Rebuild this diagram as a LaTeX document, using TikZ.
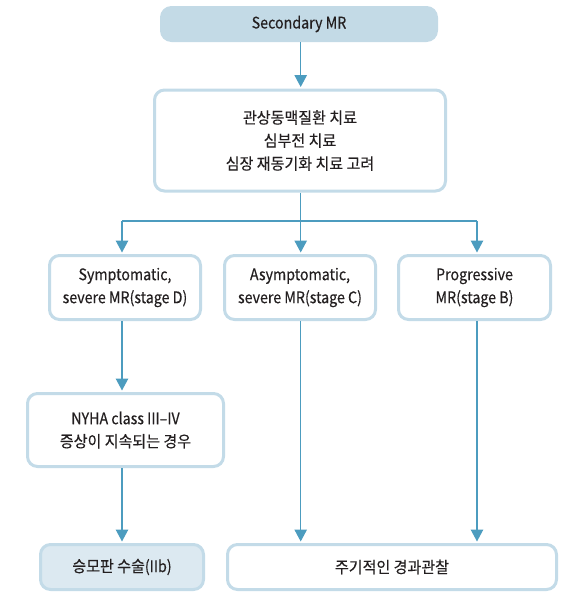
\documentclass[tikz,border=0pt]{standalone}
\usepackage{fontspec}
\setmainfont{Noto Sans CJK KR}[FakeStretch=0.94,FakeBold=0.3]
\newfontfamily\latf{Noto Sans CJK KR}[FakeStretch=0.89,FakeBold=0.3]
\newcommand{\lat}[1]{{\latf #1}}
\usetikzlibrary{arrows.meta}
\definecolor{arrowc}{HTML}{4C9CBF}
\definecolor{borderc}{HTML}{C3DBE8}
\definecolor{fillA}{HTML}{C3DAE6}
\definecolor{fillB}{HTML}{DCE9F1}
\definecolor{txt}{HTML}{231F20}
\tikzset{
  box/.style={draw=borderc, line width=3pt, rounded corners=10pt, fill=white,
    align=center, text=txt, inner sep=0pt,
    font=\fontsize{16}{23}\selectfont},
  boxfilled/.style={box, fill=fillB},
  topbox/.style={box, draw=fillA, fill=fillA},
  conn/.style={draw=arrowc, line width=1.3pt},
  arr/.style={conn, -{Triangle[width=12.5pt,length=12pt]}},
}
\begin{document}
\begin{tikzpicture}[x=1pt,y=-1pt]
\useasboundingbox (0,0) rectangle (572,606);
\node[topbox, minimum width=275pt, minimum height=33pt] (smr) at (299,24) {\lat{Secondary MR}};
\node[box, minimum width=291pt, minimum height=101pt] (treat) at (300,140.5)
  {관상동맥질환 치료\\심부전 치료\\심장 재동기화 치료 고려};
\node[box, minimum width=151pt, minimum height=64pt] (d) at (125,287.5)
  {\lat{Symptomatic,}\\\lat{severe MR(stage D)}};
\node[box, minimum width=151pt, minimum height=64pt] (c) at (300,287.5)
  {\lat{Asymptomatic,}\\\lat{severe MR(stage C)}};
\node[box, minimum width=152pt, minimum height=64pt] (b) at (474.5,287.5)
  {\lat{Progressive}\\\lat{MR(stage B)}};
\node[box, minimum width=196pt, minimum height=73pt] (nyha) at (125.5,430)
  {\lat{NYHA class III–IV}\\증상이 지속되는 경우};
\node[boxfilled, minimum width=163pt, minimum height=45pt] (surg) at (122,567)
  {승모판 수술\lat{(IIb)}};
\node[box, minimum width=329pt, minimum height=45pt] (obs) at (392,567)
  {주기적인 경과관찰};

\coordinate (xa) at (122,0);
\coordinate (xb) at (300.7,0);
\coordinate (xc) at (477,0);
\coordinate (split) at (300.7,221);

\draw[arr] (smr.south -| xb) -- ([yshift=1.5pt]treat.north -| xb);
\draw[conn] (treat.south -| xb) -- (split);
\draw[conn] (split -| xa) -- (split -| xc);
\draw[arr] (split -| xa) -- ([yshift=1.5pt]d.north -| xa);
\draw[arr] (split) -- ([yshift=1.5pt]c.north -| xb);
\draw[arr] (split -| xc) -- ([yshift=1.5pt]b.north -| xc);
\draw[arr] (d.south -| xa) -- ([yshift=1.5pt]nyha.north -| xa);
\draw[arr] (nyha.south -| xa) -- ([yshift=1.5pt]surg.north -| xa);
\draw[arr] (c.south -| xb) -- ([yshift=1.5pt]obs.north -| xb);
\draw[arr] (b.south -| xc) -- ([yshift=1.5pt]obs.north -| xc);
\end{tikzpicture}
\end{document}
